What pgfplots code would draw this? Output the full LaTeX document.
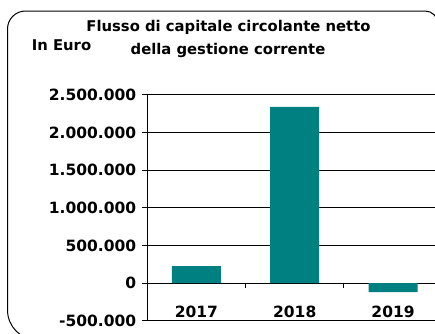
\documentclass[border=0pt]{standalone}
\usepackage{pgfplots}
\pgfplotsset{compat=1.18}
\usepackage{fontspec}
\setmainfont{DejaVu Sans}
\definecolor{barteal}{RGB}{0,128,128}
\begin{document}
\begin{tikzpicture}
\useasboundingbox (0pt,0pt) rectangle (435pt,333pt);
\begin{scope}
\clip (0pt,0pt) rectangle (435pt,333pt);
\draw[line width=1pt] (438pt,-7pt) -- (438pt,309pt) arc[start angle=0,end angle=90,radius=13pt] -- (25.5pt,322pt) arc[start angle=90,end angle=180,radius=18pt] -- (7.5pt,23pt) arc[start angle=180,end angle=270,radius=30pt] -- (438pt,-7pt);
\end{scope}
\node[font=\bfseries\fontsize{14.8}{17}\selectfont, anchor=base, inner sep=0pt] at (228.5pt,301.3pt) {Flusso di capitale circolante netto};
\node[font=\bfseries\fontsize{14.8}{17}\selectfont, anchor=base, inner sep=0pt] at (228pt,279pt) {della gestione corrente};
\node[font=\bfseries\fontsize{14.8}{17}\selectfont, anchor=base west, inner sep=0pt] at (31.7pt,283pt) {In Euro};
\begin{axis}[
  at={(147.3pt,12.3pt)}, anchor=south west,
  scale only axis, width=287.7pt, height=226pt,
  xmin=-0.5, xmax=2.427, ymin=-500000, ymax=2500000,
  axis x line*=middle, axis y line*=left,
  axis line style={line width=0.8pt, black},
  ytick={-500000,0,500000,1000000,1500000,2000000,2500000},
  yticklabels={-500.000,0,500.000,1.000.000,1.500.000,2.000.000,2.500.000},
  scaled y ticks=false,
  ymajorgrids, grid style={black, line width=0.8pt},
  xtick={0.5,1.5}, xticklabels={},
  tick align=outside, major tick length=5pt,
  tick style={black, line width=0.8pt},
  extra x ticks={0,1,2}, extra x tick labels={2017,2018,2019},
  extra x tick style={major tick length=0pt, xticklabel style={yshift=-19pt}},
  xticklabel style={font=\bfseries\fontsize{15.5}{18}\selectfont},
  yticklabel style={font=\bfseries\fontsize{15.5}{18}\selectfont, anchor=east, inner sep=0pt, xshift=-6pt},
]
\addplot[ybar, bar width=49pt, fill=barteal, draw=none] coordinates {(0,226000) (1,2340000) (2,-120000)};
\end{axis}
\end{tikzpicture}
\end{document}
